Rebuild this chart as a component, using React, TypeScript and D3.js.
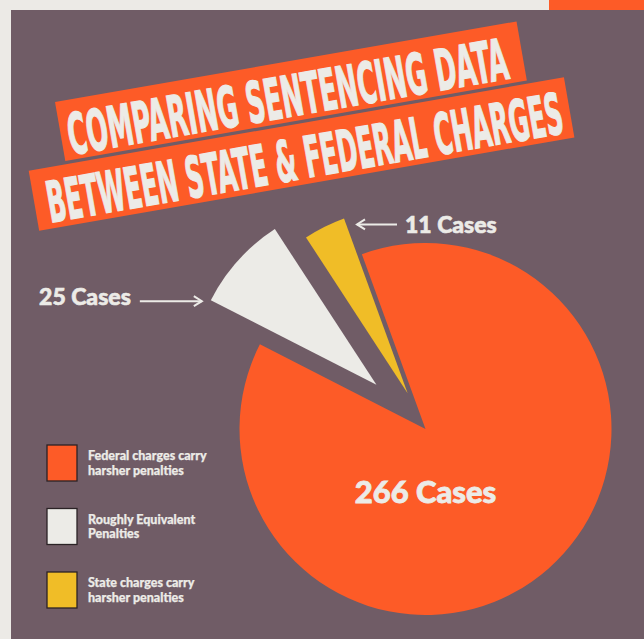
import React, { useLayoutEffect, useRef, useState } from "react";
import * as d3 from "d3";

// ---- data ----
const categories = [
  "Federal charges carry harsher penalties",
  "Roughly Equivalent Penalties",
  "State charges carry harsher penalties",
];
const legendLines = [
  ["Federal charges carry", "harsher penalties"],
  ["Roughly Equivalent", "Penalties"],
  ["State charges carry", "harsher penalties"],
];
const caseCounts = [266, 25, 11];
const caseLabels = ["266 Cases", "25 Cases", "11 Cases"];
const titleLines = ["COMPARING SENTENCING DATA", "BETWEEN STATE & FEDERAL CHARGES"];

// ---- style ----
const W = 644;
const H = 639;
const PAGE = "#ECEAE6";
const PANEL = "#705C66";
const ORANGE = "#FD5B27";
const LIGHT = "#ECEBE7";
const YELLOW = "#F0BD27";
const colors = [ORANGE, LIGHT, YELLOW];
const explode = [0, 66, 40];
const CX = 425.5;
const CY = 429;
const R = 186;
const deg = Math.PI / 180;

const banners = [
  { tx: 55, ty: 102, w: 468.5, h: 60, textX: 7, textY: 55, textW: 446 },
  { tx: 28.7, ty: 170.7, w: 543.3, h: 61, textX: 12.5, textY: 55, textW: 523 },
];

export default function App() {
  const titleRefs = [useRef<SVGTextElement>(null), useRef<SVGTextElement>(null)];
  const [scales, setScales] = useState<number[]>([0.6, 0.6]);

  useLayoutEffect(() => {
    const s = titleRefs.map((r, i) => {
      const el = r.current;
      if (!el) return 0.6;
      const w = el.getComputedTextLength();
      return w > 0 ? banners[i].textW / w : 0.6;
    });
    setScales(s);
  }, []);

  const pie = d3
    .pie<number>()
    .sort(null)
    .value((d) => d)
    .startAngle(-20 * deg)
    .endAngle(-20 * deg + 2 * Math.PI);
  const arcs = pie(caseCounts);
  const arc = d3.arc<d3.PieArcDatum<number>>().innerRadius(0).outerRadius(R);

  const offsets = arcs.map((a, i) => {
    const mid = (a.startAngle + a.endAngle) / 2;
    return [Math.sin(mid) * explode[i], -Math.cos(mid) * explode[i]];
  });

  const white = arcs[1];
  const whiteCorner = [
    CX + offsets[1][0] + Math.sin(white.startAngle) * R,
    CY + offsets[1][1] - Math.cos(white.startAngle) * R,
  ];
  const yellow = arcs[2];
  const yellowCorner = [
    CX + offsets[2][0] + Math.sin(yellow.endAngle) * R,
    CY + offsets[2][1] - Math.cos(yellow.endAngle) * R,
  ];

  const wTip = [whiteCorner[0] - 9, whiteCorner[1] + 1];
  const wTail = [wTip[0] - 62, wTip[1]];
  const yTip = [yellowCorner[0] + 13, yellowCorner[1] + 6];
  const yTail = [yTip[0] + 40, yTip[1]];

  const labelFont = "Lato, 'Noto Sans', sans-serif";
  const titleFont = "'DejaVu Sans Condensed', 'Liberation Sans Narrow', 'DejaVu Sans', sans-serif";

  return (
    <svg
      width={W}
      height={H}
      style={{ position: "absolute", left: 0, top: 0, display: "block" }}
    >
      <rect x={0} y={0} width={W} height={H} fill={PAGE} />
      <rect x={549} y={0} width={W - 549} height={10} fill={ORANGE} />
      <rect x={11} y={10} width={W - 11} height={H - 10} fill={PANEL} />

      {/* title banners */}
      {banners.map((b, i) => (
        <g key={i} transform={`translate(${b.tx},${b.ty}) rotate(-9.9)`}>
          <rect x={0} y={0} width={b.w} height={b.h} fill={ORANGE} />
          <g transform={`translate(${b.textX},${b.textY}) scale(${scales[i]},1)`}>
            <text
              ref={titleRefs[i]}
              x={0}
              y={0}
              fontFamily={titleFont}
              fontWeight={700}
              fontSize={57}
              fill={LIGHT}
              stroke={LIGHT}
              strokeWidth={1.2}
            >
              {titleLines[i]}
            </text>
          </g>
        </g>
      ))}

      {/* pie */}
      {arcs.map((a, i) => (
        <path
          key={categories[i]}
          d={arc(a) || ""}
          fill={colors[i]}
          transform={`translate(${CX + offsets[i][0]},${CY + offsets[i][1]})`}
        />
      ))}

      {/* center label */}
      <text
        x={CX}
        y={502.5}
        textAnchor="middle"
        fontFamily={labelFont}
        fontWeight={900}
        fontSize={31}
        fill={LIGHT}
        stroke={LIGHT}
        strokeWidth={0.8}
      >
        {caseLabels[0]}
      </text>

      {/* 25 cases annotation */}
      <line x1={wTail[0]} y1={wTail[1]} x2={wTip[0]} y2={wTip[1]} stroke={LIGHT} strokeWidth={2} />
      <path
        d={`M${wTip[0] - 8},${wTip[1] - 5} L${wTip[0]},${wTip[1]} L${wTip[0] - 8},${wTip[1] + 5}`}
        fill="none"
        stroke={LIGHT}
        strokeWidth={2}
      />
      <text
        x={wTail[0] - 9}
        y={305}
        textAnchor="end"
        fontFamily={labelFont}
        fontWeight={900}
        fontSize={23}
        fill={LIGHT}
        stroke={LIGHT}
        strokeWidth={0.6}
      >
        {caseLabels[1]}
      </text>

      {/* 11 cases annotation */}
      <line x1={yTail[0]} y1={yTail[1]} x2={yTip[0]} y2={yTip[1]} stroke={LIGHT} strokeWidth={2} />
      <path
        d={`M${yTip[0] + 8},${yTip[1] - 5} L${yTip[0]},${yTip[1]} L${yTip[0] + 8},${yTip[1] + 5}`}
        fill="none"
        stroke={LIGHT}
        strokeWidth={2}
      />
      <text
        x={yTail[0] + 8}
        y={232.5}
        textAnchor="start"
        fontFamily={labelFont}
        fontWeight={900}
        fontSize={23}
        fill={LIGHT}
        stroke={LIGHT}
        strokeWidth={0.6}
      >
        {caseLabels[2]}
      </text>

      {/* legend */}
      {categories.map((c, i) => {
        const y0 = 445 + i * 63.5;
        return (
          <g key={c}>
            <rect
              x={47}
              y={y0}
              width={30}
              height={36}
              fill={colors[i]}
              stroke="#2B2326"
              strokeWidth={1.3}
            />
            {legendLines[i].map((ln, j) => (
              <text
                key={j}
                x={88}
                y={y0 + 15 + j * 14.5}
                fontFamily={labelFont}
                fontWeight={900}
                fontSize={12.5}
                fill={LIGHT}
                stroke={LIGHT}
                strokeWidth={0.25}
              >
                {ln}
              </text>
            ))}
          </g>
        );
      })}
    </svg>
  );
}
